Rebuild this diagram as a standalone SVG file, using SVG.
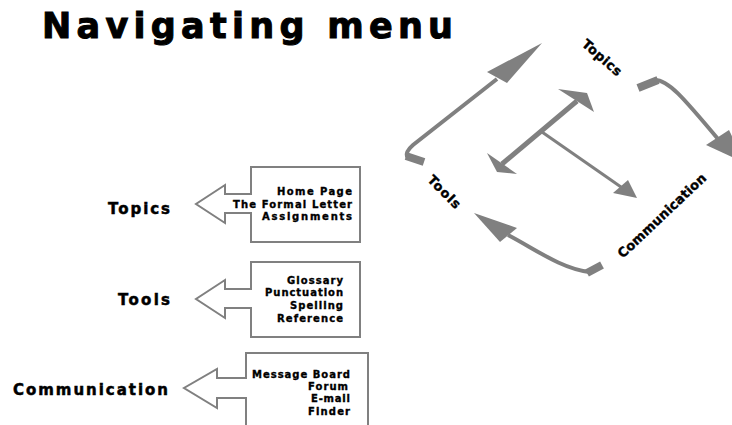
<svg xmlns="http://www.w3.org/2000/svg" width="732" height="425" viewBox="0 0 732 425">
  <style>
    text { font-family: "DejaVu Sans", Verdana, "Liberation Sans", sans-serif; font-weight: bold; fill: #000; stroke: #000; }
    .title { font-size: 35px; stroke-width: 1; }
    .label { font-size: 15px; stroke-width: 0.5; }
    .item { font-size: 10px; text-anchor: end; stroke-width: 0.35; }
    .rot { font-size: 13px; text-anchor: middle; stroke-width: 0.4; }
    .callout { fill: #fff; stroke: #808080; stroke-width: 2; }
    .shaft { fill: none; stroke: #808080; stroke-width: 4; }
    .thin { fill: none; stroke: #808080; stroke-width: 3; }
    .thick { fill: none; stroke: #808080; stroke-width: 5; }
    .foot { fill: none; stroke: #808080; stroke-width: 8; }
    .head { fill: #808080; stroke: none; }
  </style>
  <rect width="732" height="425" fill="#fff"/>
  <text class="title" x="42" y="38" textLength="411" lengthAdjust="spacing">Navigating menu</text>

  <g id="topics-menu">
    <path class="callout" d="M251,194 V167 H360 V242 H251 V213 H225 V223 L196,204 L225,185 V194 Z"/>
    <text class="item" x="352" y="195" textLength="75" lengthAdjust="spacing">Home Page</text>
    <text class="item" x="352" y="208" textLength="119" lengthAdjust="spacing">The Formal Letter</text>
    <text class="item" x="352" y="220" textLength="90" lengthAdjust="spacing">Assignments</text>
    <text class="label" x="108" y="214" textLength="62" lengthAdjust="spacing">Topics</text>
  </g>

  <g id="tools-menu">
    <path class="callout" d="M251,289 V262 H360 V337 H251 V308 H225 V318 L196,299 L225,280 V289 Z"/>
    <text class="item" x="343" y="284" textLength="56" lengthAdjust="spacing">Glossary</text>
    <text class="item" x="343" y="296" textLength="78" lengthAdjust="spacing">Punctuation</text>
    <text class="item" x="343" y="309" textLength="53" lengthAdjust="spacing">Spelling</text>
    <text class="item" x="343" y="322" textLength="66" lengthAdjust="spacing">Reference</text>
    <text class="label" x="118" y="305" textLength="52" lengthAdjust="spacing">Tools</text>
  </g>

  <g id="communication-menu">
    <path class="callout" d="M246,378 V353 H368 V432 H246 V398 H217 V408 L184,388 L217,369 V378 Z"/>
    <text class="item" x="350" y="378" textLength="98" lengthAdjust="spacing">Message Board</text>
    <text class="item" x="348" y="390" textLength="40" lengthAdjust="spacing">Forum</text>
    <text class="item" x="350" y="402" textLength="39" lengthAdjust="spacing">E-mail</text>
    <text class="item" x="350" y="415" textLength="42" lengthAdjust="spacing">Finder</text>
    <text class="label" x="13" y="395" textLength="155" lengthAdjust="spacing">Communication</text>
  </g>

  <g id="cycle-labels">
    <text id="label-topics" class="rot" x="599" y="61" textLength="48" lengthAdjust="spacing" transform="rotate(41 599 61)">Topics</text>
    <text id="label-tools" class="rot" x="441" y="195" textLength="41" lengthAdjust="spacing" transform="rotate(45.5 441 195)">Tools</text>
    <text id="label-communication" class="rot" x="665" y="219" textLength="116" lengthAdjust="spacing" transform="rotate(-43.4 665 219)">Communication</text>
  </g>

  <g id="connectors">
    <!-- Tools to Topics -->
    <line class="foot" x1="406" y1="156" x2="424" y2="162"/>
    <path class="shaft" d="M497,79 L413,145 Q405,152 407,157"/>
    <polygon class="head" points="542,43 487,72 507,83"/>
    <!-- Topics to Communication -->
    <line class="foot" x1="638" y1="88" x2="658" y2="80"/>
    <path class="shaft" d="M655,80 C668,80 682,96 718,139"/>
    <polygon class="head" points="706,145 729,130 745,163"/>
    <!-- Communication to Tools -->
    <line class="foot" x1="587" y1="273" x2="602" y2="265"/>
    <path class="shaft" d="M508,235 C535,249 560,268 589,272"/>
    <polygon class="head" points="474,213 517,228 500,242"/>
    <!-- center double arrow with branch -->
    <line class="thick" x1="502" y1="164" x2="577" y2="101"/>
    <polygon class="head" points="558,89 587,93 594,112"/>
    <polygon class="head" points="487,153 497,172 517,174"/>
    <line class="thin" x1="542" y1="132" x2="621" y2="187"/>
    <polygon class="head" points="613,193 628,180 637,198"/>
  </g>
</svg>
